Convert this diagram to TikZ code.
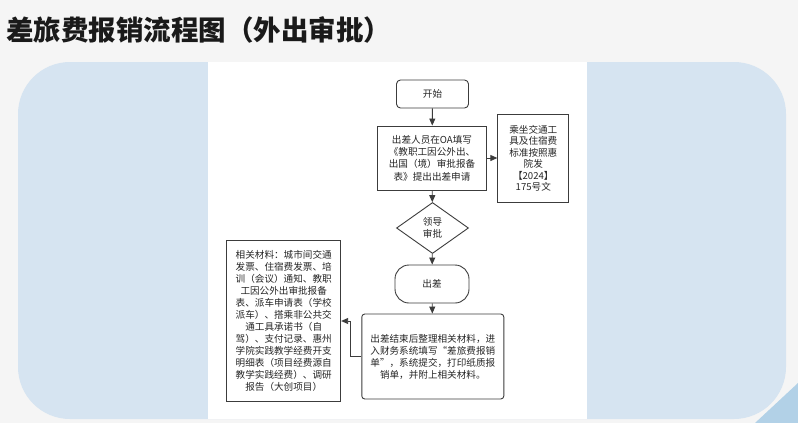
\documentclass[tikz,border=0pt]{standalone}
\usepackage{fontspec}
\newfontfamily\cjk{Noto Sans CJK SC}
\usetikzlibrary{shapes.geometric,arrows.meta}
\definecolor{bggray}{HTML}{F5F5F5}
\definecolor{panelblue}{HTML}{D6E4F1}
\definecolor{cornerblue}{HTML}{B2D1E7}
\definecolor{linegray}{HTML}{3C3C3C}
\definecolor{titleblack}{HTML}{1A1A1A}
\definecolor{textgray}{HTML}{262626}
\tikzset{
  box/.style={draw=linegray, line width=0.9pt, fill=white, align=center,
    font=\cjk\fontsize{9.6}{12}\selectfont, inner sep=0pt, text=textgray},
  arr/.style={draw=linegray, line width=0.9pt, -{Triangle[length=7pt,width=6pt]}},
}
\begin{document}
\begin{tikzpicture}[x=1pt,y=-1pt]
\useasboundingbox (0,0) rectangle (798,423);
\fill[bggray] (0,0) rectangle (798,423);
\fill[cornerblue] (755,423) -- (798,383) -- (798,423) -- cycle;
\fill[panelblue, rounded corners=52pt] (18,62) rectangle (786,419);
\fill[white] (208,62) rectangle (587,419);

\node[anchor=west, inner sep=0pt, font=\cjk\bfseries\fontsize{27.5}{32}\selectfont, text=titleblack] (title) at (6,30) {差旅费报销流程图（外出审批）};

\node[box, rounded corners=4pt, minimum width=72pt, minimum height=28pt] (start) at (432.5,94) {开始};
\node[box, minimum width=109pt, minimum height=64pt, font=\cjk\fontsize{9.6}{12.4}\selectfont] (apply) at (432,158) {出差人员在OA填写\\《教职工因公外出、\\出国（境）审批报备\\表》提出出差申请};
\node[box, minimum width=71pt, minimum height=88pt, font=\cjk\fontsize{9.6}{11.5}\selectfont] (std) at (533.3,158.3) {乘坐交通工\\具及住宿费\\标准按照惠\\院发\\【2024】\\175号文};
\node[box, shape=diamond, minimum width=72pt, minimum height=51pt] (lead) at (432.5,228) {领导\\审批};
\node[box, rounded corners=14pt, minimum width=74pt, minimum height=38pt] (go) at (432,284) {出差};
\node[box, rounded corners=3pt, minimum width=142pt, minimum height=85pt] (reim) at (432.8,356.5) {出差结束后整理相关材料，进\\入财务系统填写“差旅费报销\\单”，系统提交，打印纸质报\\销单，并附上相关材料。};
\node[box, minimum width=114pt, minimum height=161pt] (mat) at (283.7,321) {相关材料：城市间交通\\发票、住宿费发票、培\\训（会议）通知、教职\\工因公外出审批报备\\表、派车申请表（学校\\派车）、搭乘非公共交\\通工具承诺书（自\\驾）、支付记录、惠州\\学院实践教学经费开支\\明细表（项目经费源自\\教学实践经费）、调研\\报告（大创项目）};

\draw[arr] (start) -- (apply);
\draw[arr] (apply.east) -- (apply.east -| std.west);
\draw[arr] (apply) -- (lead);
\draw[arr] (lead) -- (go);
\draw[arr] (go) -- (reim);
\draw[arr] (reim.west) -- ++(-11,0) |- (mat.east);
\end{tikzpicture}
\end{document}
